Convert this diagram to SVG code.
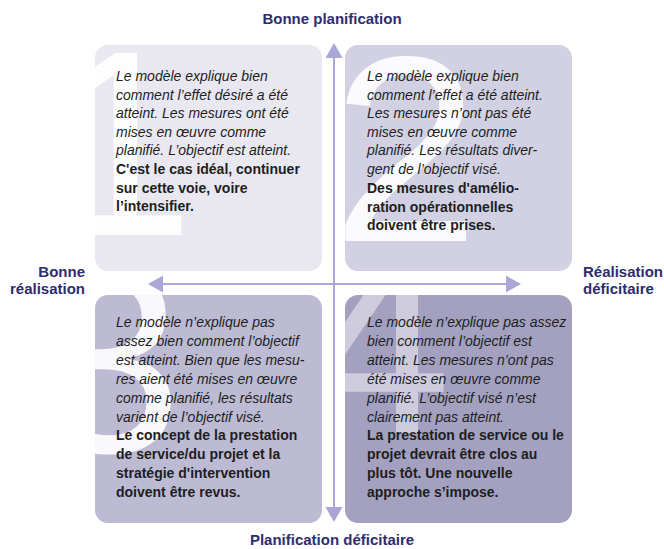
<svg xmlns="http://www.w3.org/2000/svg" width="664" height="549" viewBox="0 0 664 549">
<style>
.num{font-family:"Liberation Sans",Arial,sans-serif;font-size:265px;fill:#ffffff}
.it{font-family:"Liberation Sans",Arial,sans-serif;font-size:14px;font-style:italic;fill:#1e1e1e}
.bd{font-family:"Liberation Sans",Arial,sans-serif;font-size:14px;font-weight:bold;fill:#1e1e1e}
.lbl{font-family:"Liberation Sans",Arial,sans-serif;font-size:15px;font-weight:bold;fill:#2e2d6e}
.ax{stroke:#a9a7d6;stroke-width:2;fill:none}
.head{fill:#a9a7d6}
</style>
<defs>
<clipPath id="c1"><rect x="95" y="45" width="227" height="226" rx="13"/></clipPath>
<clipPath id="c2"><rect x="345" y="45" width="227" height="226" rx="13"/></clipPath>
<clipPath id="c3"><rect x="95" y="295" width="227" height="228" rx="13"/></clipPath>
<clipPath id="c4"><rect x="345" y="295" width="227" height="228" rx="13"/></clipPath>
</defs>
<rect width="664" height="549" fill="#ffffff"/>

<g id="q1">
<rect x="95" y="45" width="227" height="226" rx="13" fill="#e9e8f1"/>
<g clip-path="url(#c1)"><text class="num" x="47" y="235" opacity="0.9">1</text></g>
<text class="it" x="116" y="81">Le modèle explique bien<tspan x="116" dy="18.6">comment l’effet désiré a été</tspan><tspan x="116" dy="18.6">atteint. Les mesures ont été</tspan><tspan x="116" dy="18.6">mises en œuvre comme</tspan><tspan x="116" dy="18.6">planifié. L’objectif est atteint.</tspan></text>
<text class="bd" x="116" y="174">C'est le cas idéal, continuer<tspan x="116" dy="18.6">sur cette voie, voire</tspan><tspan x="116" dy="18.6">l’intensifier.</tspan></text>
</g>

<g id="q2">
<rect x="345" y="45" width="227" height="226" rx="13" fill="#d2d1e3"/>
<g clip-path="url(#c2)"><text class="num" x="332" y="241" opacity="0.9">2</text></g>
<text class="it" x="367" y="81">Le modèle explique bien<tspan x="367" dy="18.6">comment l’effet a été atteint.</tspan><tspan x="367" dy="18.6">Les mesures n’ont pas été</tspan><tspan x="367" dy="18.6">mises en œuvre comme</tspan><tspan x="367" dy="18.6">planifié. Les résultats diver-</tspan><tspan x="367" dy="18.6">gent de l’objectif visé.</tspan></text>
<text class="bd" x="367" y="193">Des mesures d'amélio-<tspan x="367" dy="18.6">ration opérationnelles</tspan><tspan x="367" dy="18.6">doivent être prises.</tspan></text>
</g>

<g id="q3">
<rect x="95" y="295" width="227" height="228" rx="13" fill="#bdbbd4"/>
<g clip-path="url(#c3)"><text class="num" x="35" y="452" opacity="0.9">3</text></g>
<text class="it" x="116" y="327">Le modèle n’explique pas<tspan x="116" dy="18.9">assez bien comment l’objectif</tspan><tspan x="116" dy="18.9">est atteint. Bien que les mesu-</tspan><tspan x="116" dy="18.9">res aient été mises en œuvre</tspan><tspan x="116" dy="18.9">comme planifié, les résultats</tspan><tspan x="116" dy="18.9">varient de l’objectif visé.</tspan></text>
<text class="bd" x="116" y="440.4">Le concept de la prestation<tspan x="116" dy="18.9">de service/du projet et la</tspan><tspan x="116" dy="18.9">stratégie d'intervention</tspan><tspan x="116" dy="18.9">doivent être revus.</tspan></text>
</g>

<g id="q4">
<rect x="345" y="295" width="227" height="228" rx="13" fill="#a4a1c0"/>
<g clip-path="url(#c4)"><text class="num" x="304" y="433" opacity="0.45">4</text></g>
<text class="it" x="367" y="327">Le modèle n’explique pas assez<tspan x="367" dy="18.9">bien comment l’objectif est</tspan><tspan x="367" dy="18.9">atteint. Les mesures n’ont pas</tspan><tspan x="367" dy="18.9">été mises en œuvre comme</tspan><tspan x="367" dy="18.9">planifié. L’objectif visé n’est</tspan><tspan x="367" dy="18.9">clairement pas atteint.</tspan></text>
<text class="bd" x="367" y="440.4">La prestation de service ou le<tspan x="367" dy="18.9">projet devrait être clos au</tspan><tspan x="367" dy="18.9">plus tôt. Une nouvelle</tspan><tspan x="367" dy="18.9">approche s’impose.</tspan></text>
</g>

<g id="connectors">
<line class="ax" x1="334" y1="56" x2="334" y2="509"/>
<polygon class="head" points="334,43 325.5,58 342.5,58"/>
<polygon class="head" points="334,522 325.5,507 342.5,507"/>
<line class="ax" x1="161" y1="284" x2="508" y2="284"/>
<polygon class="head" points="148,284 163,275.5 163,292.5"/>
<polygon class="head" points="521,284 506,275.5 506,292.5"/>
</g>

<g id="labels">
<text class="lbl" x="332" y="24" text-anchor="middle">Bonne planification</text>
<text class="lbl" x="332" y="545" text-anchor="middle">Planification déficitaire</text>
<text class="lbl" x="85" y="277" text-anchor="end">Bonne<tspan x="85" dy="16.5">réalisation</tspan></text>
<text class="lbl" x="583" y="277">Réalisation<tspan x="583" dy="16.5">déficitaire</tspan></text>
</g>
</svg>
